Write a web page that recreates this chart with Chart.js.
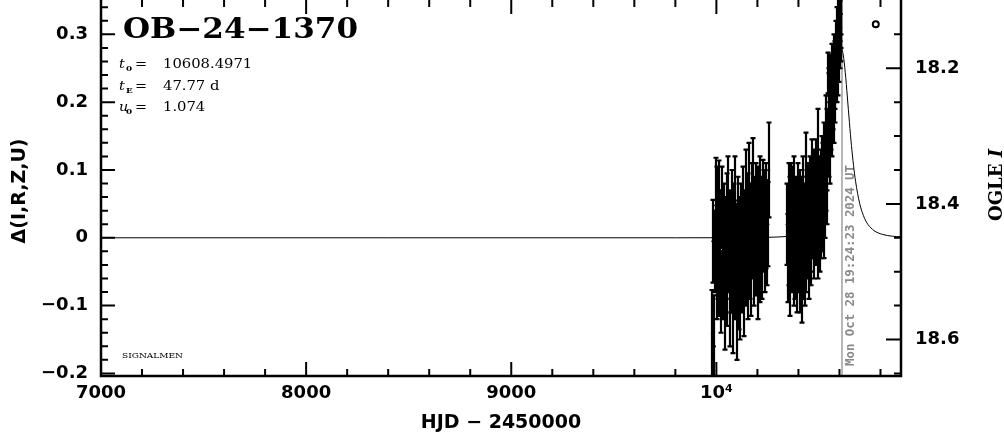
<!DOCTYPE html>
<html>
<head>
<meta charset="utf-8">
<script src="https://cdn.jsdelivr.net/npm/chart.js@4.4.1/dist/chart.umd.min.js"></script>
<style>
  html, body { margin: 0; padding: 0; background: #fff; }
  #wrap { width: 1004px; height: 434px; }
</style>
</head>
<body>
<div id="wrap"><canvas id="lc" width="1004" height="434"></canvas></div>
<script>
// axis ticks
const xTicks = [7000, 8000, 9000, 10000];
const xTickLabels = ['7000', '8000', '9000', '10\u2074'];
const leftTicks = [-0.2, -0.1, 0, 0.1, 0.2, 0.3];
const rightTicks = [18.2, 18.4, 18.6];

// model light curve (HJD-2450000, delta mag)
const modelHjd = [7000, 9800, 10000, 10100, 10200, 10300, 10350, 10400, 10448.5, 10478.5,
  10508.5, 10528.5, 10548.5, 10558.5, 10568.5, 10578.5, 10588.5, 10598.5, 10608.5,
  10618.5, 10628.5, 10638.5, 10648.5, 10658.5, 10668.5, 10678.5, 10698.5, 10716.5,
  10728.5, 10738.5, 10768.5, 10808.5, 10858.5, 10900];
const modelDelta = [0, 0, 0.0001, 0.0002, 0.0004, 0.0012, 0.0022, 0.0044, 0.0106, 0.0198,
  0.0397, 0.0649, 0.1069, 0.1359, 0.1703, 0.2076, 0.2432, 0.2695, 0.2795,
  0.2695, 0.2432, 0.2076, 0.1703, 0.1359, 0.1069, 0.0834, 0.0506, 0.0330,
  0.0248, 0.0198, 0.0106, 0.0051, 0.0023, 0.0015];

// OGLE photometry: time, delta mag, error
const obsHjd = [
  9981, 9984, 9990, 9995, 9998, 10002, 10005, 10008, 10012, 10015, 10019, 10022, 10026, 10030,
  10033, 10037, 10040, 10044, 10047, 10051, 10054, 10058, 10061, 10065, 10068, 10072, 10075,
  10079, 10082, 10086, 10089, 10093, 10096, 10100, 10103, 10107, 10110, 10114, 10117, 10121,
  10124, 10128, 10131, 10135, 10138, 10142, 10145, 10149, 10152, 10156, 10159, 10163, 10166,
  10170, 10173, 10177, 10180, 10184, 10187, 10191, 10194, 10198, 10201, 10205, 10208, 10212,
  10215, 10219, 10222, 10226, 10229, 10233, 10236, 10240, 10244, 10248, 10250, 10255,
  10346, 10349, 10352, 10355, 10358, 10361, 10364, 10367, 10370, 10373, 10376, 10379, 10382,
  10385, 10388, 10391, 10394, 10397, 10400, 10403, 10406, 10409, 10412, 10415, 10418, 10421,
  10424, 10427, 10430, 10433, 10436, 10439, 10442, 10445, 10448, 10451, 10454, 10457, 10460,
  10463, 10466, 10469, 10472, 10475, 10478, 10481, 10484, 10487, 10490, 10493, 10496, 10499,
  10502, 10505, 10508, 10511, 10514, 10517, 10520, 10523, 10526, 10529, 10532, 10535, 10538,
  10541, 10544, 10547, 10550, 10553, 10556, 10559, 10562, 10565, 10568, 10571, 10574, 10577,
  10580, 10583, 10586, 10589, 10592, 10595, 10598, 10600, 10602, 10604, 10606, 10608, 10609
];
const obsDelta = [
  -0.141, -0.005, -0.160, -0.020, 0.048, -0.060, 0.030, -0.030, 0.044, -0.050, 0.010, -0.080, 0.045, -0.020,
  -0.060, 0.020, -0.100, 0.000, -0.040, 0.030, -0.070, 0.050, -0.020, -0.090, 0.010, -0.050, 0.040,
  -0.110, -0.030, 0.020, -0.060, 0.055, -0.010, -0.110, -0.040, 0.030, -0.070, 0.000, -0.090, 0.020,
  -0.050, 0.040, -0.020, -0.080, 0.010, -0.040, 0.060, -0.010, -0.060, 0.030, 0.070, -0.030, 0.020,
  -0.050, 0.050, 0.000, 0.077, -0.040, 0.030, -0.020, 0.050, 0.010, -0.060, 0.040, 0.000, 0.060,
  -0.030, 0.030, -0.030, 0.050, 0.010, 0.040, -0.020, 0.020, 0.050, -0.010, 0.020, 0.100,
  0.020, -0.030, 0.050, -0.010, 0.030, -0.060, 0.050, -0.020, 0.040, 0.000, -0.040, 0.060, 0.010,
  -0.030, 0.030, -0.050, 0.020, 0.050, -0.020, 0.010, -0.050, 0.040, -0.010, -0.060, 0.030, -0.030,
  0.060, 0.000, -0.040, 0.020, 0.090, -0.020, 0.040, 0.000, 0.050, -0.030, 0.030, 0.060, 0.010,
  -0.010, 0.080, 0.030, 0.050, 0.000, 0.070, 0.030, 0.090, 0.020, 0.050, 0.000, 0.120, 0.030,
  0.060, 0.010, 0.070, 0.030, 0.090, 0.040, 0.080, 0.030, 0.110, 0.060, 0.100, 0.150, 0.080,
  0.130, 0.243, 0.150, 0.200, 0.140, 0.220, 0.180, 0.220, 0.170, 0.210, 0.250, 0.190, 0.240,
  0.220, 0.270, 0.250, 0.290, 0.260, 0.310, 0.280, 0.320, 0.300, 0.340, 0.310, 0.350, 0.330
];
const obsErr = [
  0.064, 0.061, 0.075, 0.060, 0.070, 0.060, 0.075, 0.060, 0.070, 0.065, 0.060, 0.060, 0.060, 0.070,
  0.060, 0.060, 0.065, 0.060, 0.070, 0.065, 0.060, 0.070, 0.060, 0.070, 0.060, 0.060, 0.060,
  0.060, 0.065, 0.060, 0.060, 0.065, 0.060, 0.070, 0.060, 0.060, 0.065, 0.060, 0.060, 0.060,
  0.060, 0.065, 0.060, 0.065, 0.060, 0.060, 0.070, 0.060, 0.060, 0.065, 0.070, 0.060, 0.060,
  0.065, 0.060, 0.060, 0.070, 0.060, 0.060, 0.065, 0.060, 0.060, 0.060, 0.065, 0.060, 0.060,
  0.065, 0.060, 0.060, 0.065, 0.060, 0.060, 0.060, 0.065, 0.060, 0.060, 0.062, 0.070,
  0.060, 0.065, 0.060, 0.060, 0.060, 0.055, 0.060, 0.060, 0.065, 0.060, 0.060, 0.060, 0.060,
  0.060, 0.060, 0.060, 0.060, 0.060, 0.060, 0.065, 0.060, 0.060, 0.060, 0.065, 0.060, 0.060,
  0.060, 0.060, 0.060, 0.060, 0.065, 0.060, 0.060, 0.060, 0.060, 0.060, 0.060, 0.060, 0.060,
  0.060, 0.065, 0.060, 0.060, 0.060, 0.060, 0.060, 0.055, 0.060, 0.060, 0.060, 0.070, 0.060,
  0.060, 0.060, 0.060, 0.060, 0.060, 0.060, 0.060, 0.060, 0.060, 0.060, 0.060, 0.060, 0.060,
  0.060, 0.030, 0.060, 0.050, 0.060, 0.050, 0.050, 0.066, 0.050, 0.050, 0.050, 0.050, 0.050,
  0.050, 0.050, 0.050, 0.050, 0.050, 0.050, 0.050, 0.050, 0.050, 0.050, 0.050, 0.050, 0.050
];

// lone circle marker
const extraHjd = [10777];
const extraDelta = [0.315];

const eventName = 'OB\u221224\u22121370';
const paramSyms = ['t', 't', 'u'];
const paramSubs = ['0', 'E', '0'];
const paramVals = ['10608.4971', '47.77 d', '1.074'];
const nowHjd = 10612.3;
const nowText = 'Mon Oct 28 19:24:23 2024 UT';

// chart.js keeps 5px above the plot box, so the ranges below start at that edge;
// the frame itself is drawn up to the canvas top
const X_MIN = 7000, X_MAX = 10900;
const Y_MIN = -0.2038, Y_MAX = 0.3418;
const M_TOP = 18.1082, M_BOT = 18.6538;
const FRAME_TOP = 0;

const tickFont = { family: 'DejaVu Sans', weight: 'bold', size: 18 };

function fitText(ctx, str, x, y, font, width) {
    ctx.font = font;
    const w = ctx.measureText(str).width;
    ctx.save();
    ctx.translate(x, y);
    ctx.scale(width / w, 1);
    ctx.fillText(str, 0, 0);
    ctx.restore();
}

function stretchText(ctx, str, x, y, font, sx) {
    ctx.font = font;
    ctx.save();
    ctx.translate(x, y);
    ctx.scale(sx, 1);
    ctx.fillText(str, 0, 0);
    ctx.restore();
    return ctx.measureText(str).width * sx;
}

// no label overhang padding: the plot box is fixed
function fixVertical(width) {
    return s => {
        s.width = width;
        s.paddingTop = 0;
        s.paddingBottom = 0;
    };
}

const decor = {
    id: 'decor',
    beforeDatasetsDraw(chart) {
        const { ctx, chartArea: a, scales: { x } } = chart;
        const px = x.getPixelForValue(nowHjd);
        ctx.save();
        ctx.strokeStyle = '#a0a0a0';
        ctx.lineWidth = 1.5;
        ctx.beginPath();
        ctx.moveTo(px, FRAME_TOP);
        ctx.lineTo(px, a.bottom);
        ctx.stroke();
        // date stamp, reading upward
        ctx.fillStyle = '#8a8a8a';
        ctx.translate(px + 12, a.bottom - 10);
        ctx.rotate(-Math.PI / 2);
        ctx.textBaseline = 'alphabetic';
        fitText(ctx, nowText, 0, 0, 'bold 13px "DejaVu Sans Mono"', 201);
        ctx.restore();
    },
    afterDatasetsDraw(chart) {
        const { ctx, chartArea: a, scales: { x, y } } = chart;
        ctx.save();
        ctx.beginPath();
        ctx.rect(a.left, FRAME_TOP, a.right - a.left, a.bottom - FRAME_TOP);
        ctx.clip();
        ctx.strokeStyle = '#000';
        ctx.lineWidth = 2.2;
        obsHjd.forEach((t, i) => {
            const px = Math.round(x.getPixelForValue(t));
            const lo = y.getPixelForValue(obsDelta[i] - obsErr[i]);
            const hi = y.getPixelForValue(obsDelta[i] + obsErr[i]);
            ctx.beginPath();
            ctx.moveTo(px, lo);
            ctx.lineTo(px, hi);
            ctx.moveTo(px - 2.5, lo);
            ctx.lineTo(px + 2.5, lo);
            ctx.moveTo(px - 2.5, hi);
            ctx.lineTo(px + 2.5, hi);
            ctx.stroke();
        });
        ctx.restore();
    },
    afterDraw(chart) {
        const { ctx, chartArea: a, scales: { x, y, y2 } } = chart;
        ctx.save();
        ctx.strokeStyle = '#000';
        ctx.fillStyle = '#000';

        // frame
        ctx.lineWidth = 2.5;
        ctx.beginPath();
        ctx.moveTo(a.left, FRAME_TOP - 2);
        ctx.lineTo(a.left, a.bottom);
        ctx.lineTo(a.right, a.bottom);
        ctx.lineTo(a.right, FRAME_TOP - 2);
        ctx.stroke();

        // inward ticks
        ctx.lineWidth = 2;
        const MAJ = 14, MIN = 7;
        ctx.beginPath();
        for (let k = 0; k * 200 + X_MIN <= X_MAX; k++) {
            const v = X_MIN + k * 200;
            const px = x.getPixelForValue(v);
            const len = v % 1000 === 0 ? MAJ : MIN;
            ctx.moveTo(px, a.bottom); ctx.lineTo(px, a.bottom - len);
            ctx.moveTo(px, FRAME_TOP); ctx.lineTo(px, FRAME_TOP + len);
        }
        for (let k = -10; k <= 17; k++) {
            const v = k * 0.02;
            const py = y.getPixelForValue(v);
            const len = k % 5 === 0 ? MAJ : MIN;
            ctx.moveTo(a.left, py); ctx.lineTo(a.left + len, py);
        }
        for (let k = 3; k <= 13; k++) {
            const v = 18 + k * 0.05;
            const py = y2.getPixelForValue(v);
            const len = k % 4 === 0 ? MAJ + 1 : MIN;
            ctx.moveTo(a.right, py); ctx.lineTo(a.right - len, py);
        }
        ctx.stroke();

        // event name and parameters
        ctx.textBaseline = 'alphabetic';
        fitText(ctx, eventName, a.left + 22, 38, 'bold 27px "DejaVu Serif"', 235);
        const rows = [68, 90, 111];
        rows.forEach((by, i) => {
            stretchText(ctx, paramSyms[i], a.left + 18, by, 'italic 13px "DejaVu Serif"', 1.1);
            stretchText(ctx, paramSubs[i], a.left + 25, by + 3, 'bold 8px "DejaVu Serif"', 1.1);
            stretchText(ctx, '=', a.left + 34, by, '12px "DejaVu Serif"', 1.2);
            stretchText(ctx, paramVals[i], a.left + 62, by, '12px "DejaVu Serif"', 1.23);
        });
        fitText(ctx, 'SIGNALMEN', a.left + 21, 358, '8px "DejaVu Serif"', 61);

        // right axis title, reading upward
        ctx.save();
        ctx.translate(1002, 221);
        ctx.rotate(-Math.PI / 2);
        const w1 = stretchText(ctx, 'OGLE ', 0, 0, 'bold 18px "DejaVu Serif"', 1);
        stretchText(ctx, 'I', w1, 0, 'bold italic 18px "DejaVu Serif"', 1);
        ctx.restore();

        ctx.restore();
    }
};

const modelPoints = modelHjd.map((t, i) => ({ x: t, y: modelDelta[i] }));
const obsPoints = obsHjd.map((t, i) => ({ x: t, y: obsDelta[i] }));
const extraPoints = extraHjd.map((t, i) => ({ x: t, y: extraDelta[i] }));

new Chart(document.getElementById('lc'), {
    type: 'scatter',
    data: {
        datasets: [
            {
                label: 'data',
                data: obsPoints,
                pointRadius: 1.6,
                pointBackgroundColor: '#000',
                pointBorderWidth: 0
            },
            {
                label: 'now',
                data: extraPoints,
                pointRadius: 3,
                pointBorderColor: '#000',
                pointBorderWidth: 2,
                pointBackgroundColor: 'rgba(0,0,0,0)'
            },
            {
                label: 'model',
                data: modelPoints,
                showLine: true,
                borderColor: '#000',
                borderWidth: 1,
                pointRadius: 0,
                cubicInterpolationMode: 'monotone'
            }
        ]
    },
    options: {
        responsive: false,
        animation: false,
        devicePixelRatio: 1,
        layout: { padding: 0 },
        plugins: { legend: { display: false }, tooltip: { enabled: false } },
        scales: {
            x: {
                type: 'linear',
                min: X_MIN,
                max: X_MAX,
                grid: { display: false, drawTicks: false },
                border: { display: false },
                afterBuildTicks: s => { s.ticks = xTicks.map(v => ({ value: v })); },
                afterFit: s => { s.height = 58; s.paddingLeft = 0; s.paddingRight = 0; },
                ticks: {
                    autoSkip: false,
                    maxRotation: 0,
                    padding: 7,
                    color: '#000',
                    font: tickFont,
                    callback: v => xTickLabels[xTicks.indexOf(v)]
                },
                title: {
                    display: true,
                    text: 'HJD \u2212 2450000',
                    color: '#000',
                    font: { family: 'DejaVu Sans', weight: 'bold', size: 19 },
                    padding: { top: 0, bottom: 0 }
                }
            },
            y: {
                type: 'linear',
                position: 'left',
                min: Y_MIN,
                max: Y_MAX,
                grid: { display: false, drawTicks: false },
                border: { display: false },
                afterBuildTicks: s => { s.ticks = leftTicks.map(v => ({ value: v })); },
                afterFit: fixVertical(101),
                ticks: {
                    autoSkip: false,
                    padding: 13,
                    color: '#000',
                    font: tickFont,
                    callback: v => v === 0 ? '0' : (v < 0 ? '\u2212' : '') + Math.abs(v).toFixed(1)
                },
                title: {
                    display: true,
                    text: '\u0394(I,R,Z,U)',
                    color: '#000',
                    font: { family: 'DejaVu Sans', weight: 'bold', size: 19 },
                    padding: { top: 9, bottom: 0 }
                }
            },
            y2: {
                type: 'linear',
                position: 'right',
                reverse: true,
                min: M_TOP,
                max: M_BOT,
                grid: { display: false, drawTicks: false },
                border: { display: false },
                afterBuildTicks: s => { s.ticks = rightTicks.map(v => ({ value: v })); },
                afterFit: fixVertical(103),
                ticks: {
                    autoSkip: false,
                    padding: 14,
                    color: '#000',
                    font: tickFont,
                    callback: v => v.toFixed(1)
                }
            }
        }
    },
    plugins: [decor]
});
</script>
</body>
</html>
